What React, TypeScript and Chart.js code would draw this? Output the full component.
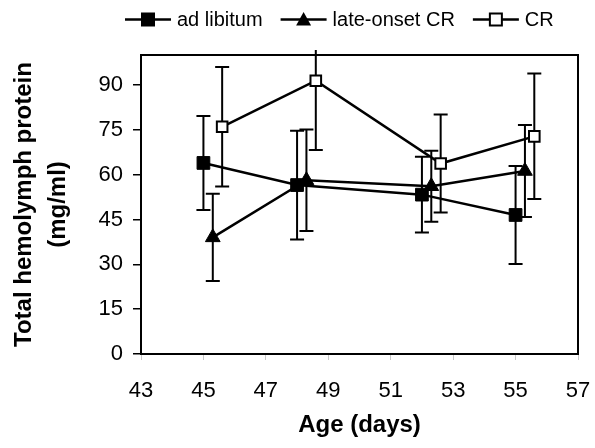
import React, { useEffect, useRef } from "react";
import { Chart, registerables } from "chart.js";

Chart.register(...registerables);

// ---- data ----
const seriesLabels = ["ad libitum", "late-onset CR", "CR"];

const adLibDays = [45, 48, 52, 55];
const adLibMean = [63.9, 56.5, 53.3, 46.5];
const adLibErr = [15.7, 18.2, 12.7, 16.4];

const lateDays = [45.3, 48.3, 52.3, 55.3];
const lateMean = [39.0, 58.1, 56.1, 61.2];
const lateErr = [14.6, 17.0, 11.9, 15.4];

const crDays = [45.6, 48.6, 52.6, 55.6];
const crMean = [76.0, 91.4, 63.7, 72.8];
const crErr = [20.0, 23.2, 16.4, 21.0];

const xTicks = [43, 45, 47, 49, 51, 53, 55, 57];
const yTicks = [0, 15, 30, 45, 60, 75, 90];

const FONT = "'Liberation Sans', Arial, sans-serif";

const toPoints = (xs: number[], ys: number[]) => xs.map((x, i) => ({ x, y: ys[i] }));

const errorBarPlugin = {
  id: "errorBars",
  beforeDatasetsDraw(chart: any) {
    const { ctx, chartArea } = chart;
    const yScale = chart.scales.y;
    ctx.save();
    ctx.beginPath();
    ctx.rect(chartArea.left - 20, chartArea.top - 5, chartArea.right - chartArea.left + 40, chartArea.bottom - chartArea.top + 25);
    ctx.clip();
    ctx.strokeStyle = "#000";
    ctx.lineWidth = 2;
    chart.data.datasets.forEach((ds: any, di: number) => {
      const meta = chart.getDatasetMeta(di);
      meta.data.forEach((el: any, i: number) => {
        const v = ds.data[i].y;
        const e = ds.errors[i];
        const yt = yScale.getPixelForValue(v + e);
        const yb = yScale.getPixelForValue(v - e);
        const x = el.x;
        const cap = 7;
        ctx.beginPath();
        ctx.moveTo(x, yt);
        ctx.lineTo(x, yb);
        ctx.moveTo(x - cap, yt);
        ctx.lineTo(x + cap, yt);
        ctx.moveTo(x - cap, yb);
        ctx.lineTo(x + cap, yb);
        ctx.stroke();
      });
    });
    ctx.restore();
  },
};

const framePlugin = {
  id: "frame",
  beforeDatasetsDraw(chart: any) {
    const { ctx, chartArea } = chart;
    ctx.save();
    ctx.strokeStyle = "#000";
    ctx.lineWidth = 2;
    ctx.beginPath();
    ctx.moveTo(chartArea.left, chartArea.top);
    ctx.lineTo(chartArea.right, chartArea.top);
    ctx.lineTo(chartArea.right, chartArea.bottom);
    ctx.stroke();
    ctx.restore();
  },
};

const legendPlugin = {
  id: "customLegend",
  afterDraw(chart: any) {
    const { ctx } = chart;
    ctx.save();
    ctx.font = `20px ${FONT}`;
    ctx.textBaseline = "middle";
    ctx.fillStyle = "#000";
    ctx.strokeStyle = "#000";
    let x = 125;
    const y = 19.5;
    const lineLen = 46;
    chart.data.datasets.forEach((ds: any) => {
      ctx.lineWidth = 2.5;
      ctx.beginPath();
      ctx.moveTo(x, y);
      ctx.lineTo(x + lineLen, y);
      ctx.stroke();
      const cx = x + lineLen / 2;
      if (ds.pointStyle === "triangle") {
        ctx.beginPath();
        ctx.moveTo(cx, y - 7.5);
        ctx.lineTo(cx + 7.5, y + 6);
        ctx.lineTo(cx - 7.5, y + 6);
        ctx.closePath();
        ctx.fillStyle = "#000";
        ctx.fill();
      } else if (ds.pointBackgroundColor === "#fff") {
        ctx.fillStyle = "#fff";
        ctx.fillRect(cx - 6, y - 6, 12, 12);
        ctx.lineWidth = 2;
        ctx.strokeRect(cx - 6, y - 6, 12, 12);
      } else {
        ctx.fillStyle = "#000";
        ctx.fillRect(cx - 7, y - 7, 14, 14);
      }
      ctx.fillStyle = "#000";
      const tx = x + lineLen + 6;
      ctx.fillText(ds.label, tx, y + 1);
      x = tx + ctx.measureText(ds.label).width + 18;
    });
    ctx.restore();
  },
};

export default function App() {
  const ref = useRef<HTMLCanvasElement | null>(null);

  useEffect(() => {
    if (!ref.current) return;
    const chart = new Chart(ref.current, {
      type: "line",
      data: {
        datasets: [
          {
            label: seriesLabels[0],
            data: toPoints(adLibDays, adLibMean),
            errors: adLibErr,
            borderColor: "#000",
            borderWidth: 2.5,
            pointStyle: "rect",
            pointRadius: 9,
            pointBackgroundColor: "#000",
            pointBorderColor: "#000",
            pointBorderWidth: 1,
          } as any,
          {
            label: seriesLabels[1],
            data: toPoints(lateDays, lateMean),
            errors: lateErr,
            borderColor: "#000",
            borderWidth: 2.5,
            pointStyle: "triangle",
            pointRadius: 8.5,
            pointBackgroundColor: "#000",
            pointBorderColor: "#000",
            pointBorderWidth: 1,
          } as any,
          {
            label: seriesLabels[2],
            data: toPoints(crDays, crMean),
            errors: crErr,
            borderColor: "#000",
            borderWidth: 2.5,
            pointStyle: "rect",
            pointRadius: 7.5,
            pointBackgroundColor: "#fff",
            pointBorderColor: "#000",
            pointBorderWidth: 2,
          } as any,
        ],
      },
      options: {
        animation: false,
        responsive: false,
        devicePixelRatio: 1,
        layout: { padding: { top: 55, right: 17, left: 0, bottom: 0 } },
        plugins: {
          legend: { display: false },
          tooltip: { enabled: false },
        },
        elements: { line: { tension: 0 } },
        scales: {
          x: {
            type: "linear",
            min: 43,
            max: 57,
            afterBuildTicks: (s: any) => {
              s.ticks = xTicks.map((v) => ({ value: v }));
            },
            afterFit: (s: any) => {
              s.height = 94;
              s.paddingLeft = 0;
              s.paddingRight = 0;
            },
            grid: { drawOnChartArea: false, drawTicks: true, tickLength: 6, color: "#c8c8c8", lineWidth: 1 },
            border: { display: true, color: "#000", width: 2 },
            ticks: { font: { family: FONT, size: 22 }, color: "#000", padding: 18, maxRotation: 0, autoSkip: false },
            title: {
              display: true,
              text: "Age (days)",
              color: "#000",
              font: { family: FONT, size: 24, weight: "bold" },
              padding: { top: 0, bottom: 8 },
            },
          },
          y: {
            type: "linear",
            min: 0,
            max: 100,
            afterBuildTicks: (s: any) => {
              s.ticks = yTicks.map((v) => ({ value: v }));
            },
            afterFit: (s: any) => {
              s.width = 141;
              s.paddingTop = 0;
              s.paddingBottom = 0;
            },
            grid: { drawOnChartArea: false, drawTicks: true, tickLength: 8, color: "#000", lineWidth: 1.5 },
            border: { display: true, color: "#000", width: 2 },
            ticks: { font: { family: FONT, size: 22 }, color: "#000", padding: 10 },
            title: {
              display: true,
              text: ["Total hemolymph protein", "(mg/ml)"],
              color: "#000",
              font: { family: FONT, size: 24, weight: "bold", lineHeight: 1.4 },
              padding: { top: 8, bottom: 0 },
            },
          },
        },
      } as any,
      plugins: [framePlugin, errorBarPlugin, legendPlugin],
    });
    return () => chart.destroy();
  }, []);

  return (
    <div style={{ position: "absolute", left: 0, top: 0, width: 595, height: 448, background: "#fff" }}>
      <canvas ref={ref} width={595} height={448} />
    </div>
  );
}
